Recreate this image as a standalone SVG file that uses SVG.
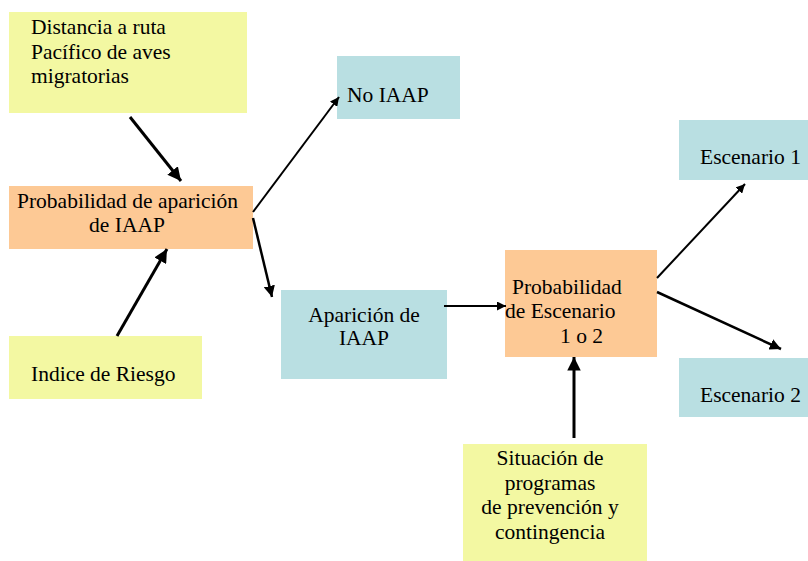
<svg xmlns="http://www.w3.org/2000/svg" width="808" height="561" viewBox="0 0 808 561">
<defs>
<style>
.y{fill:#F3F8A2}
.o{fill:#FDC995}
.b{fill:#B9DFE2}
text{font-family:"Liberation Serif","Times New Roman",serif;font-size:21.5px;fill:#000}
.c{text-anchor:middle}
.e{stroke:#000;fill:none}
</style>
<marker id="ah" viewBox="0 0 10 10" refX="10" refY="5" markerWidth="4.5" markerHeight="4.5" markerUnits="strokeWidth" orient="auto">
<path d="M0,0 L10,5 L0,10 z" fill="#000"/>
</marker>
</defs>
<rect width="808" height="561" fill="#fff"/>
<g id="n-distancia">
<rect class="y" x="9" y="12" width="238" height="101"/>
<text x="31" y="34">Distancia a ruta</text>
<text x="31" y="59">Pacífico de aves</text>
<text x="31" y="83">migratorias</text>
</g>
<g id="n-prob-aparicion">
<rect class="o" x="9" y="186" width="244" height="63"/>
<text x="17" y="208">Probabilidad de aparición</text>
<text x="127" y="232" class="c">de IAAP</text>
</g>
<g id="n-no-iaap">
<rect class="b" x="337" y="56" width="123" height="63"/>
<text x="347" y="102">No IAAP</text>
</g>
<g id="n-indice">
<rect class="y" x="9" y="336" width="193" height="63"/>
<text x="31" y="381">Indice de Riesgo</text>
</g>
<g id="n-aparicion">
<rect class="b" x="281" y="290" width="166" height="89"/>
<text x="364" y="322" class="c">Aparición de</text>
<text x="364" y="345" class="c">IAAP</text>
</g>
<g id="n-prob-escenario">
<rect class="o" x="505" y="250" width="152" height="107"/>
<text x="512" y="294">Probabilidad</text>
<text x="505" y="318">de Escenario</text>
<text x="560" y="343">1 o 2</text>
</g>
<g id="n-escenario1">
<rect class="b" x="679" y="120" width="129" height="60"/>
<text x="700" y="164">Escenario 1</text>
</g>
<g id="n-escenario2">
<rect class="b" x="679" y="358" width="129" height="59"/>
<text x="700" y="402">Escenario 2</text>
</g>
<g id="n-situacion">
<rect class="y" x="463" y="444" width="184" height="117"/>
<text x="550" y="465" class="c">Situación de</text>
<text x="550" y="490" class="c">programas</text>
<text x="550" y="514" class="c">de prevención y</text>
<text x="550" y="539" class="c">contingencia</text>
</g>
<g id="connectors">
<line class="e" stroke-width="3" x1="130" y1="117" x2="181" y2="181" marker-end="url(#ah)"/>
<line class="e" stroke-width="3" x1="117" y1="336" x2="167" y2="249" marker-end="url(#ah)"/>
<line class="e" stroke-width="2" x1="253" y1="212" x2="339" y2="97" marker-end="url(#ah)"/>
<line class="e" stroke-width="2.5" x1="253" y1="218" x2="272" y2="297" marker-end="url(#ah)"/>
<line class="e" stroke-width="2" x1="444" y1="306" x2="506" y2="306" marker-end="url(#ah)"/>
<line class="e" stroke-width="3" x1="574" y1="438" x2="574" y2="357" marker-end="url(#ah)"/>
<line class="e" stroke-width="2" x1="657" y1="278" x2="745" y2="184" marker-end="url(#ah)"/>
<line class="e" stroke-width="2.5" x1="657" y1="292" x2="781" y2="349" marker-end="url(#ah)"/>
</g>
</svg>
